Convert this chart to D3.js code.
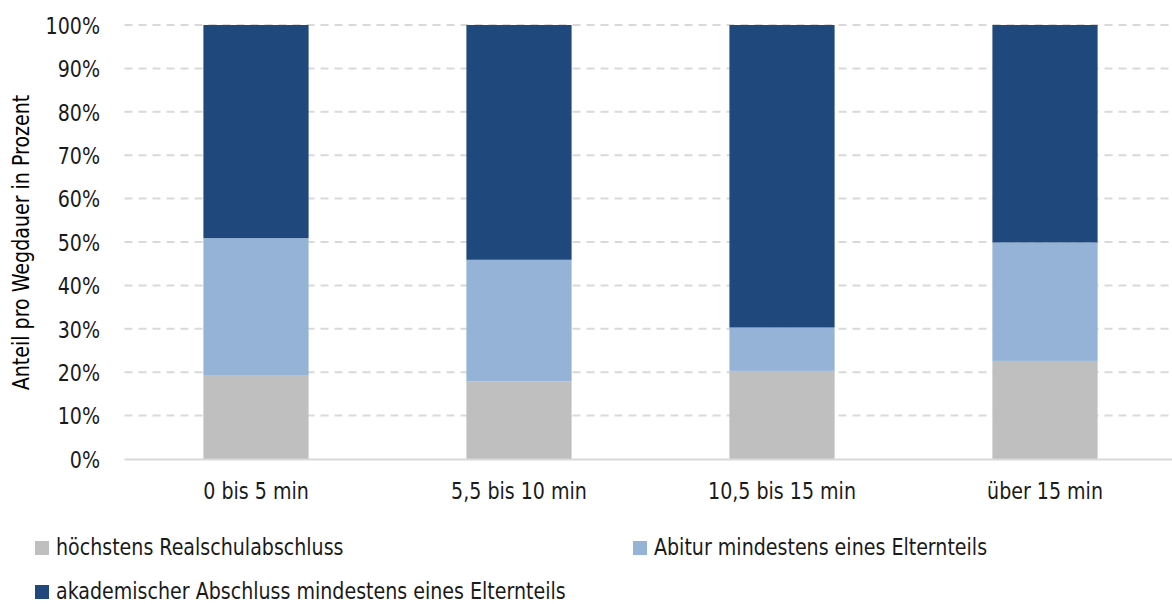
<!DOCTYPE html>
<html><head><meta charset="utf-8">
<script src="https://cdn.jsdelivr.net/npm/d3@7"></script>
<style>
html,body{margin:0;padding:0;background:#fff;}
svg{display:block;font-family:"DejaVu Sans Condensed","Liberation Sans Narrow",sans-serif;}
</style></head>
<body>
<svg id="chart" width="1172" height="604"></svg>
<script>
const categories = ["0 bis 5 min", "5,5 bis 10 min", "10,5 bis 15 min", "über 15 min"];
const seriesNames = ["höchstens Realschulabschluss", "Abitur mindestens eines Elternteils", "akademischer Abschluss mindestens eines Elternteils"];
const realschul = [19.2, 17.9, 20.3, 22.6];
const abitur = [31.7, 28.0, 10.0, 27.3];
const akademisch = [49.1, 54.1, 69.7, 50.1];
const yTicks = [0, 10, 20, 30, 40, 50, 60, 70, 80, 90, 100];
const colors = ["#BFBFBF", "#95B3D7", "#1F497D"];

const FS = 23, SQUEEZE = 0.92;
const svg = d3.select("#chart");
const margin = {left: 124.5, right: -4.5, top: 25, bottom: 145};
const W = 1172, H = 604;
const x = d3.scaleBand().domain(categories).range([margin.left, W - margin.right]).paddingInner(0.6).paddingOuter(0.3);
const y = d3.scaleLinear().domain([0, 100]).range([H - margin.bottom, margin.top]);

const rows = categories.map((c, i) => ({cat: c, s0: realschul[i], s1: abitur[i], s2: akademisch[i]}));
const stack = d3.stack().keys(["s0", "s1", "s2"])(rows);

// gridlines
svg.append("g").selectAll("line").data(yTicks.filter(t => t > 0)).join("line")
  .attr("x1", margin.left).attr("x2", W)
  .attr("y1", d => y(d)).attr("y2", d => y(d))
  .attr("stroke", "#D9D9D9").attr("stroke-width", 2).attr("stroke-dasharray", "8,6");

// bars
svg.append("g").selectAll("g").data(stack).join("g")
  .attr("fill", (d, i) => colors[i])
  .selectAll("rect").data(d => d).join("rect")
  .attr("x", d => x(d.data.cat))
  .attr("width", x.bandwidth())
  .attr("y", d => y(d[1]))
  .attr("height", d => y(d[0]) - y(d[1]));

// baseline
svg.append("line").attr("x1", margin.left).attr("x2", W)
  .attr("y1", y(0) + 0.5).attr("y2", y(0) + 0.5)
  .attr("stroke", "#D9D9D9").attr("stroke-width", 2);

// y axis labels
const yAxis = d3.axisLeft(y).tickValues(yTicks).tickFormat(d => d + "%").tickSize(0).tickPadding(0);
const gy = svg.append("g").attr("transform", `translate(100,0)`).call(yAxis);
gy.select(".domain").remove();
gy.selectAll("text").attr("font-size", FS).attr("fill", "#1a1a1a").attr("dy", "0.36em")
  .attr("font-family", "'DejaVu Sans Condensed',sans-serif");

// x axis labels
const xAxis = d3.axisBottom(x).tickSize(0).tickPadding(0);
const gx = svg.append("g").attr("transform", `translate(0,${y(0) + 24})`).call(xAxis);
gx.select(".domain").remove();
gx.selectAll("text").attr("font-size", FS).attr("fill", "#1a1a1a")
  .attr("font-family", "'DejaVu Sans Condensed',sans-serif");

// y title
svg.append("text").attr("transform", `translate(29,${(y(0) + y(100)) / 2 + 0.5}) rotate(-90)`)
  .attr("text-anchor", "middle").attr("font-size", FS).attr("fill", "#000")
  .text("Anteil pro Wegdauer in Prozent");

// legend
const legendPos = [{x: 35, y: 548}, {x: 633, y: 548}, {x: 35, y: 592}];
const lg = svg.append("g").selectAll("g").data(seriesNames).join("g")
  .attr("transform", (d, i) => `translate(${legendPos[i].x},${legendPos[i].y})`);
lg.append("rect").attr("x", 0).attr("y", -7).attr("width", 14).attr("height", 14)
  .attr("fill", (d, i) => colors[i]);
lg.append("text").attr("x", 21).attr("y", 7).attr("font-size", FS).attr("fill", "#1a1a1a").text(d => d);

// narrow the glyphs to mimic the condensed reference face
svg.selectAll("text").each(function() {
  const len = this.getComputedTextLength();
  d3.select(this).attr("textLength", len * SQUEEZE).attr("lengthAdjust", "spacingAndGlyphs");
});
</script>
</body></html>
